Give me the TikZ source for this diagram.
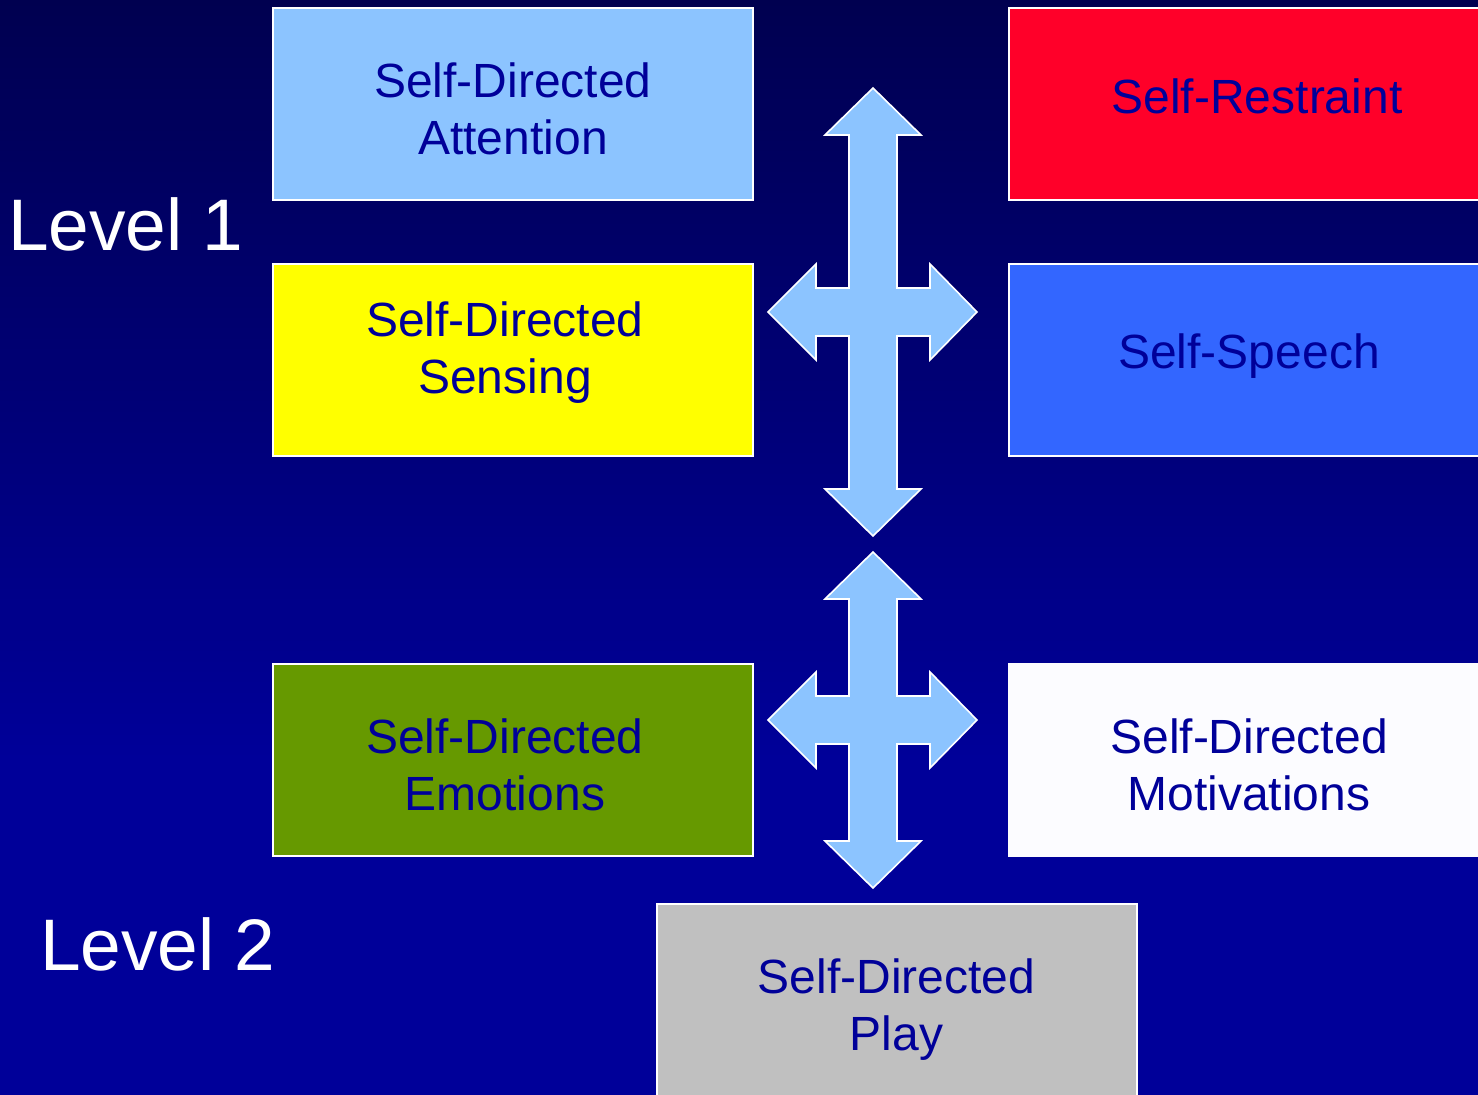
\documentclass[tikz,border=0pt]{standalone}
\usepackage{fontspec}
\setmainfont{Liberation Sans}
\usetikzlibrary{calc}

\definecolor{bgtop}{HTML}{000050}
\definecolor{bgbot}{HTML}{000099}
\definecolor{inktext}{HTML}{000099}
\definecolor{attnfill}{HTML}{8CC4FF}
\definecolor{sensfill}{HTML}{FFFF00}
\definecolor{restfill}{HTML}{FF0029}
\definecolor{speechfill}{HTML}{3366FF}
\definecolor{emofill}{HTML}{669900}
\definecolor{motivfill}{HTML}{FCFCFF}
\definecolor{playfill}{HTML}{C0C0C0}
\definecolor{arrowfill}{HTML}{8CC4FF}

\tikzset{
  panel/.style={draw=white, line width=2pt, minimum width=480pt,
    minimum height=192pt, inner sep=0pt, rectangle},
  caption/.style={anchor=base, inner sep=0pt, text=inktext,
    font=\fontsize{48}{57}\selectfont},
  levellabel/.style={anchor=base west, inner sep=0pt, text=white,
    font=\fontsize{73}{80}\selectfont},
  crossfill/.style={fill=arrowfill, draw=white, line width=1.6pt, line join=miter}
}

% four-way block arrow: centre x, vertical tips, centre y of the side arms
\newcommand\crossarrow[4]{%
  \draw[crossfill]
    (#1,#2) -- ({#1+48},{#2+47}) -- ({#1+24},{#2+47}) -- ({#1+24},{#4-24})
    -- ({#1+57},{#4-24}) -- ({#1+57},{#4-48}) -- ({#1+104},#4)
    -- ({#1+57},{#4+48}) -- ({#1+57},{#4+24}) -- ({#1+24},{#4+24})
    -- ({#1+24},{#3-47}) -- ({#1+48},{#3-47}) -- (#1,#3)
    -- ({#1-48},{#3-47}) -- ({#1-24},{#3-47}) -- ({#1-24},{#4+24})
    -- ({#1-57},{#4+24}) -- ({#1-57},{#4+48}) -- ({#1-105},#4)
    -- ({#1-57},{#4-48}) -- ({#1-57},{#4-24}) -- ({#1-24},{#4-24})
    -- ({#1-24},{#2+47}) -- ({#1-48},{#2+47}) -- cycle;}

\begin{document}
\begin{tikzpicture}[x=1pt, y=-1pt]
  \useasboundingbox (0,0) rectangle (1478,1095);
  \clip (0,0) rectangle (1478,1095);

  % background
  \fill[bgbot] (0,0) rectangle (1478,1095);
  \shade[top color=bgtop, bottom color=bgbot] (0,0) rectangle (1478,760);

  % level labels
  \node[levellabel] (lvone) at (8,250) {Level 1};
  \node[levellabel] (lvtwo) at (40,970) {Level 2};

  % panels
  \node[panel, fill=attnfill]   (attn)   at (513,104)   {};
  \node[panel, fill=sensfill]   (sens)   at (513,360)   {};
  \node[panel, fill=emofill]    (emo)    at (513,760)   {};
  \node[panel, fill=restfill]   (rest)   at (1249,104)  {};
  \node[panel, fill=speechfill] (speech) at (1249,360)  {};
  \node[panel, fill=motivfill, draw=motivfill] (motiv) at (1249,760) {};
  \node[panel, fill=playfill]   (play)   at (896.5,1000) {};

  % panel captions
  \node[caption] (attnt)   at (513,97)   {\begin{tabular}[t]{@{}c@{}}Self-Directed\\Attention\end{tabular}};
  \node[caption] (senst)   at (505,336)  {\begin{tabular}[t]{@{}c@{}}Self-Directed\\Sensing\end{tabular}};
  \node[caption] (emot)    at (505,753)  {\begin{tabular}[t]{@{}c@{}}Self-Directed\\Emotions\end{tabular}};
  \node[caption] (restt)   at (1257,113) {Self-Restraint};
  \node[caption] (speecht) at (1249,368) {Self-Speech};
  \node[caption] (motivt)  at (1249,753) {\begin{tabular}[t]{@{}c@{}}Self-Directed\\Motivations\end{tabular}};
  \node[caption] (playt)   at (896.5,993) {\begin{tabular}[t]{@{}c@{}}Self-Directed\\Play\end{tabular}};

  % block arrows
  \crossarrow{873}{88}{536}{312}
  \crossarrow{873}{552}{888}{720}
\end{tikzpicture}
\end{document}
